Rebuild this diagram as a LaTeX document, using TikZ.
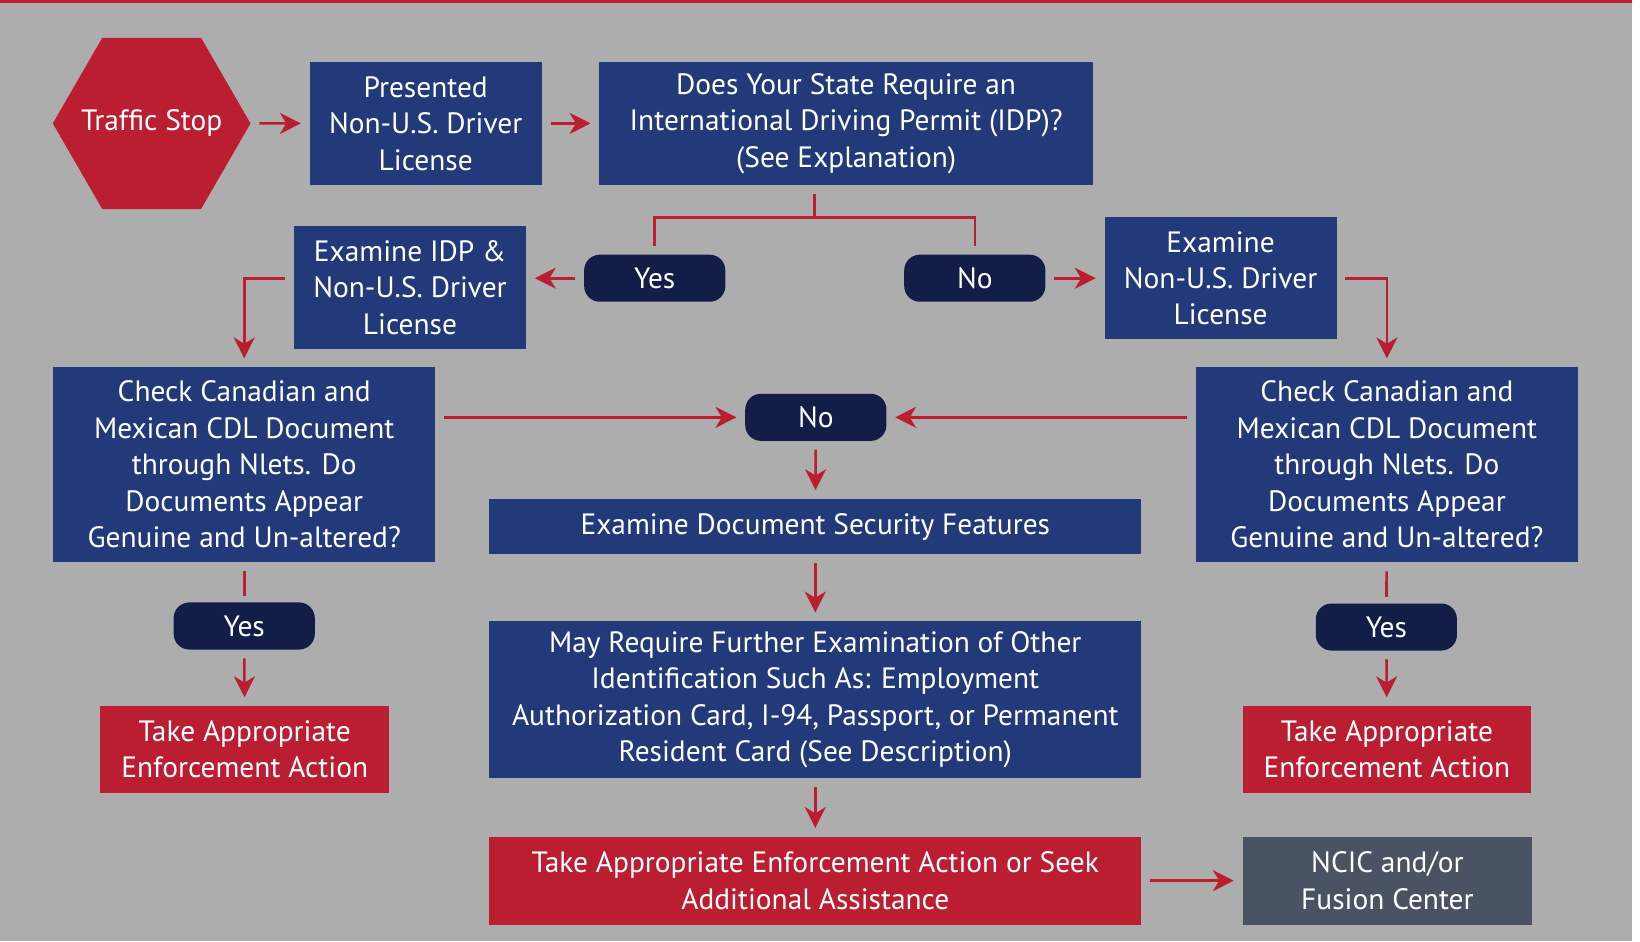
\documentclass[tikz,border=0pt]{standalone}
\usepackage{fontspec}
\setmainfont{PT Sans}
\usetikzlibrary{arrows.meta,shapes.geometric}

\definecolor{stopred}{RGB}{186,30,48}
\definecolor{boxblue}{RGB}{35,58,122}
\definecolor{pillnavy}{RGB}{18,29,72}
\definecolor{bggray}{RGB}{173,173,173}
\definecolor{slate}{RGB}{74,83,99}

\begin{document}
\begin{tikzpicture}[
        font=\fontsize{16}{19.8}\selectfont,
        box/.style={rectangle, fill=boxblue, text=white, align=center, inner sep=0pt, minimum width=4.44cm, minimum height=2.36cm},
        pill/.style={rectangle, rounded corners=0.3cm, fill=pillnavy, text=white, inner sep=0pt, minimum width=2.7cm, minimum height=0.9cm},
        action/.style={box, fill=stopred},
        link/.style={stopred, line width=1.4pt},
        arrow/.style={link, -{Stealth[length=0.4cm, width=0.4cm, inset=0.12cm]}, shorten <=0.16cm, shorten >=0.16cm}
    ]

    % Background and top rule
    \fill[bggray] (0,0) rectangle (31.20,18);
    \fill[stopred] (0,17.94) rectangle (31.20,18);
    \useasboundingbox (0,0) rectangle (31.36,18);

    % Top row
    \node[regular polygon, regular polygon sides=6, minimum size=3.78cm, inner sep=0pt, fill=stopred, text=white] (stop) at (2.90,15.64) {\makebox[0pt]{Traffic Stop}};
    \node[box] (presented) at (8.14,15.64) {Presented\\Non-U.S. Driver\\License};
    \node[box, minimum width=9.44cm] (idp) at (16.18,15.64) {Does Your State Require an\\International Driving Permit (IDP)?\\(See Explanation)};

    \draw[arrow] (stop) -- (presented);
    \draw[arrow] (presented) -- (idp);

    % Yes / No after the IDP question
    \node[pill] (yes) at (12.52,12.68) {Yes};
    \node[pill] (no) at (18.64,12.68) {No};
    \coordinate (fork) at (15.58,13.84);

    \draw[link] (idp.south -| fork) ++(0,-0.16) -- (fork);
    \draw[link] (yes.north) ++(0,0.16) |- (fork) -| ([yshift=0.16cm]no.north);

    \node[box] (examidp) at (7.84,12.50) {Examine IDP \&\\Non-U.S. Driver\\License};
    \node[box, minimum height=2.34cm] (examnon) at (23.34,12.68) {Examine\\Non-U.S. Driver\\License};

    \draw[arrow] (yes.west) -- (yes.west -| examidp.east);
    \draw[arrow] (no.east) -- (examnon.west);

    % Document checks
    \node[box, minimum width=7.30cm, minimum height=3.72cm] (checkleft) at (4.67,9.12) {Check Canadian and\\Mexican CDL Document\\through Nlets. Do\\Documents Appear\\Genuine and Un-altered?};
    \node[box, minimum width=7.30cm, minimum height=3.72cm] (checkright) at (26.52,9.12) {Check Canadian and\\Mexican CDL Document\\through Nlets. Do\\Documents Appear\\Genuine and Un-altered?};

    \draw[arrow] (examidp.west |- yes) -| (checkleft.north);
    \draw[arrow] (examnon.east) -| (checkright.north);

    % Middle column
    \node[pill] (nomid) at (15.60,10.02) {No};
    \node[box, minimum width=12.46cm, minimum height=1.06cm] (security) at (15.59,7.93) {Examine Document Security Features};
    \node[box, minimum width=12.46cm, minimum height=3.00cm] (further) at (15.59,4.62) {May Require Further Examination of Other\\Identification Such As: Employment\\Authorization Card, I-94, Passport, or Permanent\\Resident Card (See Description)};
    \node[action, minimum width=12.46cm, minimum height=1.68cm] (seek) at (15.59,1.16) {Take Appropriate Enforcement Action or Seek\\Additional Assistance};
    \node[box, fill=slate, minimum width=5.54cm, minimum height=1.68cm] (ncic) at (26.53,1.16) {NCIC and/or\\Fusion Center};

    \draw[arrow] (checkleft.east |- nomid) -- (nomid.west);
    \draw[arrow] (checkright.west |- nomid) -- (nomid.east);
    \draw[arrow] (nomid) -- (security);
    \draw[arrow] (security) -- (further);
    \draw[arrow] (further) -- (seek);
    \draw[arrow] (seek) -- (ncic);

    % Side columns
    \node[pill] (yesleft) at (4.67,6.03) {Yes};
    \node[action, minimum width=5.52cm, minimum height=1.66cm] (actleft) at (4.68,3.67) {Take Appropriate\\Enforcement Action};
    \node[pill] (yesright) at (26.51,6.01) {Yes};
    \node[action, minimum width=5.52cm, minimum height=1.66cm] (actright) at (26.52,3.67) {Take Appropriate\\Enforcement Action};

    \draw[link, shorten <=0.18cm, shorten >=0.12cm] (checkleft) -- (yesleft);
    \draw[arrow] (yesleft) -- (actleft);
    \draw[link, shorten <=0.18cm, shorten >=0.12cm] (checkright) -- (yesright);
    \draw[arrow] (yesright) -- (actright);

\end{tikzpicture}
\end{document}
